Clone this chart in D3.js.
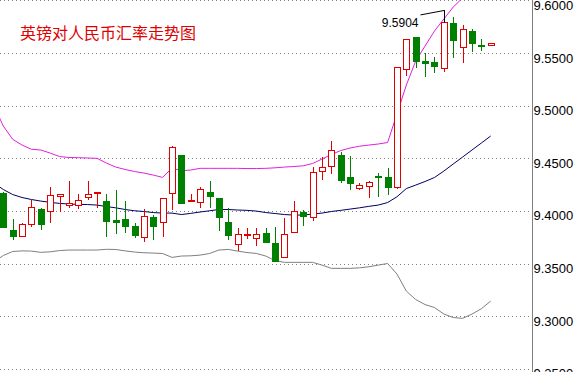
<!DOCTYPE html>
<html>
<head>
<meta charset="utf-8">
<script src="https://cdn.jsdelivr.net/npm/d3@7/dist/d3.min.js"></script>
<style>
    body { margin: 0; background: #fff; }
    svg { display: block; }
</style>
</head>
<body>
<div id="chart"></div>
<script>
var title = "英镑对人民币汇率走势图";

// daily candles, left to right
var opens  = [9.4172, 9.3819, 9.3762, 9.3872, 9.4018, 9.3999, 9.4144, 9.4063, 9.4053, 9.4138,
              9.4167, 9.4094, 9.3909, 9.3923, 9.3859, 9.3750, 9.3942, 9.3891, 9.4167, 9.4530,
              9.4091, 9.4082, 9.4179, 9.4120, 9.3891, 9.3683, 9.3772, 9.3740, 9.3787, 9.3692,
              9.3561, 9.3803, 9.3987, 9.3939, 9.4372, 9.4426, 9.4530, 9.4322, 9.4220, 9.4229,
              9.4329, 9.4319, 9.4220, 9.5344, 9.5649, 9.5423, 9.5414, 9.5354, 9.5782, 9.5550,
              9.5711, 9.5579, 9.5575];
var highs  = [9.4175, 9.3920, 9.3885, 9.4104, 9.4025, 9.4224, 9.4160, 9.4284, 9.4160, 9.4281,
              9.4179, 9.4160, 9.4198, 9.4091, 9.3882, 9.4015, 9.3961, 9.4120, 9.4616, 9.4530,
              9.4160, 9.4225, 9.4284, 9.4125, 9.4025, 9.3835, 9.3838, 9.3835, 9.3835, 9.3844,
              9.3929, 9.4094, 9.4009, 9.4414, 9.4509, 9.4666, 9.4562, 9.4521, 9.4267, 9.4287,
              9.4364, 9.4405, 9.5369, 9.5629, 9.5654, 9.5497, 9.5459, 9.5904, 9.5839, 9.5765,
              9.5725, 9.5629, 9.5597];
var lows   = [9.3845, 9.3724, 9.3755, 9.3850, 9.3819, 9.3888, 9.3987, 9.4025, 9.4015, 9.4104,
              9.4025, 9.3750, 9.3781, 9.3793, 9.3747, 9.3702, 9.3724, 9.3755, 9.4009, 9.4072,
              9.4091, 9.4030, 9.4030, 9.3810, 9.3723, 9.3618, 9.3733, 9.3670, 9.3697, 9.3523,
              9.3561, 9.3803, 9.3856, 9.3904, 9.4293, 9.4347, 9.4261, 9.4198, 9.4198, 9.4120,
              9.4132, 9.4151, 9.4205, 9.5281, 9.5360, 9.5269, 9.5307, 9.5322, 9.5449, 9.5401,
              9.5512, 9.5518, 9.5575];
var closes = [9.3850, 9.3765, 9.3875, 9.4034, 9.3872, 9.4151, 9.4160, 9.4078, 9.4101, 9.4163,
              9.4179, 9.3904, 9.3894, 9.3859, 9.3778, 9.3948, 9.3859, 9.4120, 9.4604, 9.4078,
              9.4104, 9.4205, 9.4141, 9.3935, 9.3764, 9.3778, 9.3778, 9.3778, 9.3697, 9.3523,
              9.3778, 9.3999, 9.3945, 9.4366, 9.4414, 9.4578, 9.4293, 9.4267, 9.4245, 9.4271,
              9.4320, 9.4224, 9.5364, 9.5629, 9.5417, 9.5407, 9.5376, 9.5791, 9.5623, 9.5725,
              9.5601, 9.5572, 9.5597];

// bollinger bands, first value belongs to the day before the first candle
var bandStart = -1;
var bandUpper = [9.4996, 9.4806, 9.4680, 9.4625, 9.4585, 9.4578, 9.4549, 9.4516, 9.4507, 9.4505,
                 9.4502, 9.4499, 9.4454, 9.4416, 9.4393, 9.4374, 9.4359, 9.4340, 9.4318, 9.4407,
                 9.4381, 9.4388, 9.4404, 9.4404, 9.4404, 9.4404, 9.4404, 9.4402, 9.4402, 9.4404,
                 9.4409, 9.4416, 9.4421, 9.4428, 9.4450, 9.4492, 9.4535, 9.4573, 9.4597, 9.4614,
                 9.4625, 9.4635, 9.4649, 9.4920, 9.5195, 9.5423, 9.5566, 9.5708, 9.5822, 9.5936,
                 9.6022, 9.6098, 9.6164, 9.6221];
var bandMid   = [9.4264, 9.4203, 9.4155, 9.4127, 9.4108, 9.4093, 9.4081, 9.4071, 9.4065, 9.4062,
                 9.4060, 9.4055, 9.4041, 9.4029, 9.4013, 9.4001, 9.3994, 9.3984, 9.3979, 9.3979,
                 9.3965, 9.3976, 9.3989, 9.4001, 9.4013, 9.4013, 9.4008, 9.4005, 9.3998, 9.3984,
                 9.3975, 9.3965, 9.3960, 9.3960, 9.3970, 9.3979, 9.3994, 9.4005, 9.4017, 9.4029,
                 9.4043, 9.4055, 9.4079, 9.4134, 9.4212, 9.4245, 9.4279, 9.4317, 9.4378, 9.4445,
                 9.4511, 9.4578, 9.4644, 9.4711];
var bandLower = [9.3514, 9.3576, 9.3614, 9.3620, 9.3618, 9.3606, 9.3611, 9.3623, 9.3628, 9.3628,
                 9.3628, 9.3628, 9.3635, 9.3633, 9.3620, 9.3609, 9.3602, 9.3599, 9.3595, 9.3558,
                 9.3571, 9.3573, 9.3580, 9.3595, 9.3628, 9.3634, 9.3618, 9.3604, 9.3596, 9.3571,
                 9.3528, 9.3511, 9.3511, 9.3511, 9.3511, 9.3485, 9.3454, 9.3454, 9.3454, 9.3459,
                 9.3469, 9.3485, 9.3500, 9.3400, 9.3238, 9.3158, 9.3110, 9.3082, 9.3020, 9.2987,
                 9.2979, 9.3020, 9.3070, 9.3143];

var yTicks = [9.25, 9.30, 9.35, 9.40, 9.45, 9.50, 9.55, 9.60];

CandleChart = function(_parentElement) {
    this.parentElement = _parentElement;
    this.initVis();
};

CandleChart.prototype.initVis = function() {
    var vis = this;
    vis.width = 580;
    vis.height = 372;
    vis.axisX = 532.5;

    vis.svg = d3.select(vis.parentElement).append("svg")
        .attr("width", vis.width)
        .attr("height", vis.height);

    vis.x = d3.scaleLinear().domain([0, closes.length - 1]).range([3.3, 490.7]);
    vis.y = d3.scaleLinear().domain([9.25, 9.60]).range([368.8, 0.3]);

    vis.svg.append("clipPath").attr("id", "plot-clip")
        .append("rect").attr("x", 0).attr("y", 0).attr("width", 532).attr("height", vis.height);

    // dotted price grid
    vis.svg.append("g").selectAll("line")
        .data(yTicks)
        .enter().append("line")
        .attr("x1", 0)
        .attr("x2", vis.axisX)
        .attr("y1", function(d) { return Math.round(vis.y(d)) + 0.5; })
        .attr("y2", function(d) { return Math.round(vis.y(d)) + 0.5; })
        .attr("stroke", "#808080")
        .attr("stroke-dasharray", "1,3")
        .attr("shape-rendering", "crispEdges");

    // price axis on the right
    var axis = d3.axisRight(vis.y)
        .tickValues(yTicks)
        .tickFormat(d3.format(".4f"))
        .tickSize(0)
        .tickPadding(1);
    var gAxis = vis.svg.append("g")
        .attr("transform", "translate(" + vis.axisX + ",0)")
        .call(axis);
    gAxis.select(".domain").remove();
    gAxis.selectAll("text")
        .attr("dy", "0.7em")
        .attr("fill", "#000")
        .style("font-family", "'Liberation Sans', Arial, sans-serif")
        .style("font-size", "13px");
    vis.svg.append("line")
        .attr("x1", vis.axisX).attr("x2", vis.axisX)
        .attr("y1", 0).attr("y2", vis.height)
        .attr("stroke", "#808080");

    vis.plot = vis.svg.append("g").attr("clip-path", "url(#plot-clip)");

    vis.drawBands();
    vis.drawCandles();
    vis.drawLabels();
};

CandleChart.prototype.drawBands = function() {
    var vis = this;
    var line = d3.line()
        .x(function(d, i) { return vis.x(i + bandStart); })
        .y(function(d) { return vis.y(d); });

    [[bandLower, "#7f7f7f"], [bandMid, "#000060"], [bandUpper, "#e020e0"]].forEach(function(b) {
        vis.plot.append("path")
            .datum(b[0])
            .attr("d", line)
            .attr("fill", "none")
            .attr("stroke", b[1])
            .attr("stroke-width", 1);
    });
};

CandleChart.prototype.drawCandles = function() {
    var vis = this;
    var red = "#e00000", green = "#008000";
    var data = closes.map(function(c, i) {
        return {i: i, o: opens[i], h: highs[i], l: lows[i], c: c, up: c >= opens[i]};
    });
    var px = function(i) { return Math.round(vis.x(i)) + 0.5; };

    var g = vis.plot.append("g").selectAll("g")
        .data(data)
        .enter().append("g");

    g.append("line")
        .attr("x1", function(d) { return px(d.i); })
        .attr("x2", function(d) { return px(d.i); })
        .attr("y1", function(d) { return vis.y(d.h); })
        .attr("y2", function(d) { return vis.y(d.l); })
        .attr("stroke", function(d) { return d.up ? red : green; })
        .attr("shape-rendering", "crispEdges");

    g.append("rect")
        .attr("x", function(d) { return px(d.i) - 3; })
        .attr("width", 6)
        .attr("y", function(d) { return Math.round(vis.y(Math.max(d.o, d.c))) + 0.5; })
        .attr("height", function(d) {
            return Math.max(1, Math.round(Math.abs(vis.y(d.o) - vis.y(d.c))));
        })
        .attr("fill", function(d) { return d.up ? "#fff" : green; })
        .attr("stroke", function(d) { return d.up ? red : green; })
        .attr("shape-rendering", "crispEdges");
};

CandleChart.prototype.drawLabels = function() {
    var vis = this;

    vis.svg.append("text")
        .attr("x", 20)
        .attr("y", 38.5)
        .attr("fill", "#e00000")
        .style("font-family", "'Noto Sans CJK SC', sans-serif")
        .style("font-size", "16px")
        .text(title);

    // mark the highest price
    var k = d3.maxIndex(highs);
    var xc = Math.round(vis.x(k)) + 0.5;
    var yh = vis.y(highs[k]);
    var yb = Math.round(vis.y(Math.max(opens[k], closes[k]))) + 0.5;
    vis.svg.append("path")
        .attr("d", "M" + (xc - 24) + "," + (yh + 4.5) + "L" + xc + "," + yh + "L" + xc + "," + yb)
        .attr("fill", "none")
        .attr("stroke", "#000");
    vis.svg.append("text")
        .attr("x", xc - 26)
        .attr("y", yh + 17)
        .attr("text-anchor", "end")
        .attr("fill", "#000")
        .style("font-family", "'Liberation Sans', Arial, sans-serif")
        .style("font-size", "12px")
        .text(d3.format(".4f")(highs[k]));
};

var chart = new CandleChart("#chart");
</script>
</body>
</html>
